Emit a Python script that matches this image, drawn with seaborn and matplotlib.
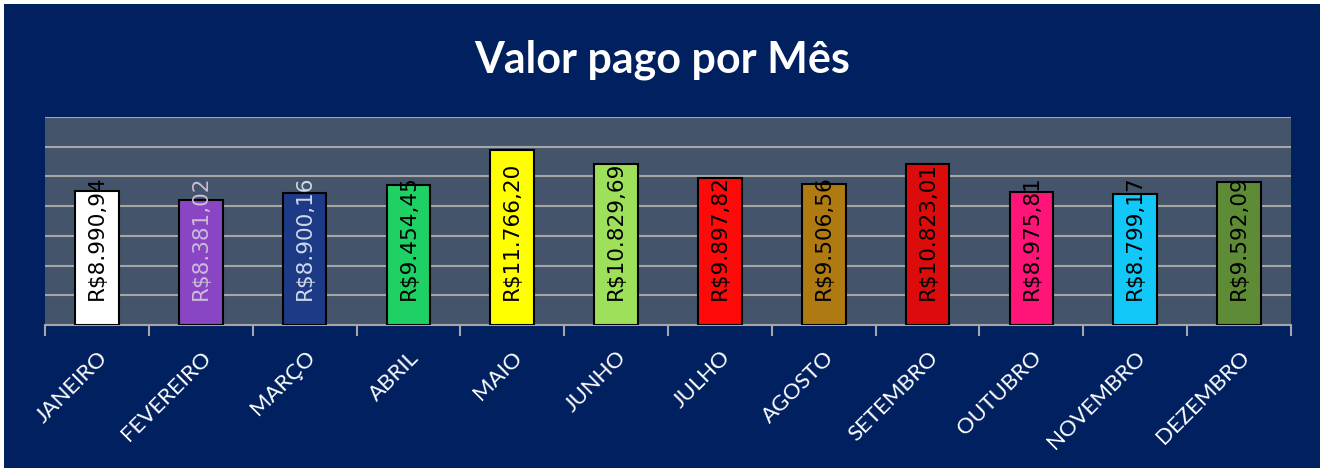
import matplotlib
matplotlib.use("Agg")
import matplotlib.pyplot as plt
import seaborn as sns
import pandas as pd
from matplotlib.patches import Rectangle

months = ["JANEIRO", "FEVEREIRO", "MARÇO", "ABRIL", "MAIO", "JUNHO",
          "JULHO", "AGOSTO", "SETEMBRO", "OUTUBRO", "NOVEMBRO", "DEZEMBRO"]
values = [8990.94, 8381.02, 8900.16, 9454.45, 11766.20, 10829.69,
          9897.82, 9506.56, 10823.01, 8975.81, 8799.17, 9592.09]
labels = ["R$8.990,94", "R$8.381,02", "R$8.900,16", "R$9.454,45", "R$11.766,20",
          "R$10.829,69", "R$9.897,82", "R$9.506,56", "R$10.823,01", "R$8.975,81",
          "R$8.799,17", "R$9.592,09"]
bar_colors = ["#ffffff", "#8a45c4", "#1c3a86", "#1fd064", "#ffff00", "#9ee05a",
              "#ff0a0a", "#b07a12", "#dc0c0c", "#ff1478", "#12c8f8", "#5e8c36"]
label_colors = ["black", "#c8bcd8", "#d0d8e8", "black", "black", "black",
                "black", "black", "black", "black", "black", "black"]

sns.set_theme(style="white")
plt.rcParams['font.family'] = ['Lato', 'DejaVu Sans']

W, H = 1325, 472
fig = plt.figure(figsize=(W / 100, H / 100), dpi=100, facecolor="white")
fig.patches.append(Rectangle((4 / W, 4 / H), 1316 / W, 464 / H, transform=fig.transFigure,
                             facecolor="#00205f", edgecolor="none", zorder=-10))

ax = fig.add_axes([45 / W, (H - 325) / H, 1246 / W, 208 / H])
ax.set_facecolor("#44546a")

df = pd.DataFrame({"mes": months, "valor": values})
sns.barplot(data=df, x="mes", y="valor", hue="mes", palette=bar_colors, legend=False,
            width=0.42, edgecolor="black", linewidth=1.5, saturation=1, ax=ax, zorder=3)

ax.set_ylim(0, 14000)
ax.set_xlim(-0.5, len(months) - 0.5)
ax.set_yticks(range(0, 14001, 2000))
ax.yaxis.grid(True, color="#a6a6a6", linewidth=1.5, zorder=0)
ax.set_axisbelow(True)
ax.tick_params(axis="y", left=False, labelleft=False)
ax.set_xlabel("")
ax.set_ylabel("")
for s in ["top", "right", "left"]:
    ax.spines[s].set_visible(False)
ax.spines["bottom"].set_color("#a6a6a6")
ax.spines["bottom"].set_linewidth(1.5)

ax.set_xticks(range(len(months)))
ax.set_xticklabels(months, rotation=45, ha="right", rotation_mode="anchor",
                   color="white", fontsize=16)
ax.tick_params(axis="x", which="major", bottom=False, length=0, pad=16)
ax.set_xticks([i - 0.5 for i in range(len(months) + 1)], minor=True)
ax.tick_params(axis="x", which="minor", bottom=True, length=8, width=1.5,
               color="#a6a6a6", direction="out")

for i, (lab, c) in enumerate(zip(labels, label_colors)):
    ax.annotate(lab, xy=(i, 0), xytext=(0, 18), textcoords="offset points",
                rotation=90, ha="center", va="bottom", fontsize=15.5, color=c,
                family=["DejaVu Sans"], zorder=5)

fig.text(0.5, (H - 72) / H, "Valor pago por Mês", ha="center", va="baseline",
         color="white", fontsize=31, fontweight="bold")

fig.savefig("out.png", dpi=100, facecolor="white")
